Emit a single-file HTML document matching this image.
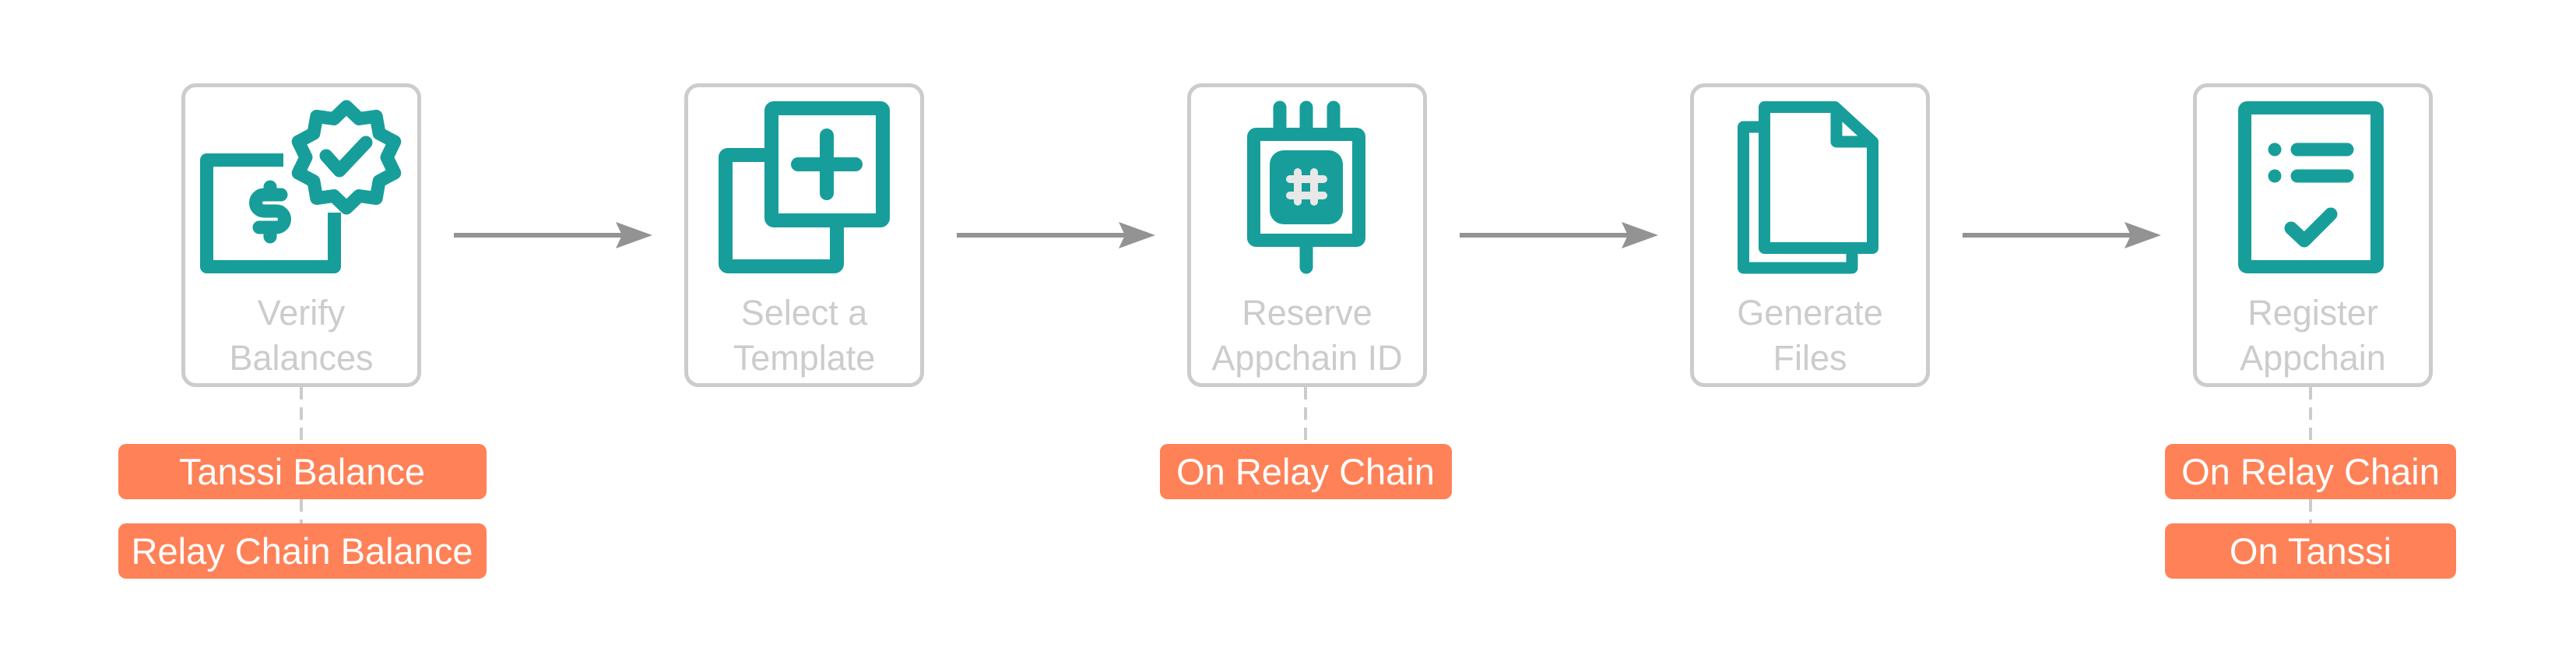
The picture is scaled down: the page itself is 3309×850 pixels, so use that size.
<!DOCTYPE html>
<html><head><meta charset="utf-8"><style>
html,body{margin:0;padding:0;background:#fff;}
svg{display:block;}
</style></head><body>
<svg width="3309" height="850" viewBox="0 0 3309 850" xmlns="http://www.w3.org/2000/svg">
<defs>
<g id="arr">
<line x1="583" y1="302" x2="805" y2="302" stroke="#939393" stroke-width="6"/>
<polygon points="838,302 791,285 799,302 791,319" fill="#939393"/>
</g>
</defs>
<g fill="#fff" stroke="#cccccc" stroke-width="5">
<rect x="235.5" y="109.5" width="303" height="385" rx="16"/>
<rect x="881.5" y="109.5" width="303" height="385" rx="16"/>
<rect x="1527.5" y="109.5" width="303" height="385" rx="16"/>
<rect x="2173.5" y="109.5" width="303" height="385" rx="16"/>
<rect x="2819.5" y="109.5" width="303" height="385" rx="16"/>
</g>
<use href="#arr"/>
<use href="#arr" transform="translate(646,0)"/>
<use href="#arr" transform="translate(1292,0)"/>
<use href="#arr" transform="translate(1938,0)"/>
<g stroke="#cccccc" stroke-width="4" stroke-dasharray="16 10">
<line x1="387" y1="497" x2="387" y2="570"/>
<line x1="387" y1="641" x2="387" y2="672"/>
<line x1="1677" y1="497" x2="1677" y2="570"/>
<line x1="2968" y1="497" x2="2968" y2="570"/>
<line x1="2968" y1="641" x2="2968" y2="672"/>
</g>
<g fill="#ff8157">
<rect x="152" y="570" width="473" height="71" rx="10"/>
<rect x="152" y="672" width="473" height="71" rx="10"/>
<rect x="1490" y="570" width="375" height="71" rx="10"/>
<rect x="2781" y="570" width="374" height="71" rx="10"/>
<rect x="2781" y="672" width="374" height="71" rx="10"/>
</g>
<g font-family="Liberation Sans, sans-serif" font-size="47" fill="#fff" text-anchor="middle">
<text x="388" y="622">Tanssi Balance</text>
<text x="388" y="724">Relay Chain Balance</text>
<text x="1677" y="622">On Relay Chain</text>
<text x="2968" y="622">On Relay Chain</text>
<text x="2968" y="724">On Tanssi</text>
</g>
<g font-family="Liberation Sans, sans-serif" font-size="45" fill="#cccccc" text-anchor="middle">
<text x="387" y="417">Verify</text><text x="387" y="475">Balances</text>
<text x="1033" y="417">Select a</text><text x="1033" y="475">Template</text>
<text x="1679" y="417">Reserve</text><text x="1679" y="475">Appchain ID</text>
<text x="2325" y="417">Generate</text><text x="2325" y="475">Files</text>
<text x="2971" y="417">Register</text><text x="2971" y="475">Appchain</text>
</g>
<g fill="none" stroke="#189e9a" stroke-width="17">
<path d="M364,205.5 H265.5 V342.5 H429.5 V273" stroke-linejoin="round"/>
<path d="M361,250 H339 a10.5,10.5 0 0 0 0,21 H355 a10.5,10.5 0 0 1 0,21 H333" stroke-linecap="round"/>
<path d="M347,240 V250 M347,292 V304" stroke-linecap="round"/>
<polygon stroke-linejoin="round" points="445.0,137.0 461.1,152.5 483.2,149.4 487.1,171.4 506.8,181.9 497.0,202.0 506.8,222.1 487.1,232.6 483.2,254.6 461.1,251.5 445.0,267.0 428.9,251.5 406.8,254.6 402.9,232.6 383.2,222.1 393.0,202.0 383.2,181.9 402.9,171.4 406.8,149.4 428.9,152.5"/>
<path d="M419,200 L436,219 L470,183" stroke-linecap="round" stroke-linejoin="round"/>
<rect x="932" y="199" width="143" height="143" rx="3" stroke-width="18"/>
<rect x="991" y="139" width="143" height="144" rx="3" fill="#fff" stroke-width="18"/>
<path d="M1025,211 H1099 M1062,174 V248" stroke-width="18" stroke-linecap="round"/>
<rect x="1610.5" y="172.5" width="135" height="136" rx="3"/>
<path d="M1644,138 V164 M1678,138 V164 M1713,138 V164 M1678,317 V343" stroke-linecap="round"/>
<rect x="1631" y="193" width="94" height="95" rx="18" fill="#189e9a" stroke="none"/>
<path d="M1667,221 V259 M1688,221 V259 M1657,230 H1700 M1657,251 H1700" stroke="#e8e8e8" stroke-width="10" stroke-linecap="round"/>
<path d="M2267,163 H2239.5 V344 H2379 V326" stroke-linejoin="round" stroke-width="15"/>
<path d="M2357,137.5 H2266.5 V318.5 H2405.5 V182 Z" fill="#fff" stroke-width="15" stroke-linejoin="round"/>
<path d="M2359,138 V182 H2405" stroke-width="15" stroke-linejoin="round"/>
<rect x="2883.5" y="138.5" width="170" height="204" rx="3"/>
<path d="M2951,192 H3015 M2951,226 H3015" stroke-linecap="round"/>
<path d="M2943,293 L2960,309 L2994,275" stroke-linecap="round" stroke-linejoin="round"/>
</g>
<circle cx="2922" cy="192" r="8.5" fill="#189e9a"/>
<circle cx="2922" cy="226" r="8.5" fill="#189e9a"/>
</svg>
</body></html>
